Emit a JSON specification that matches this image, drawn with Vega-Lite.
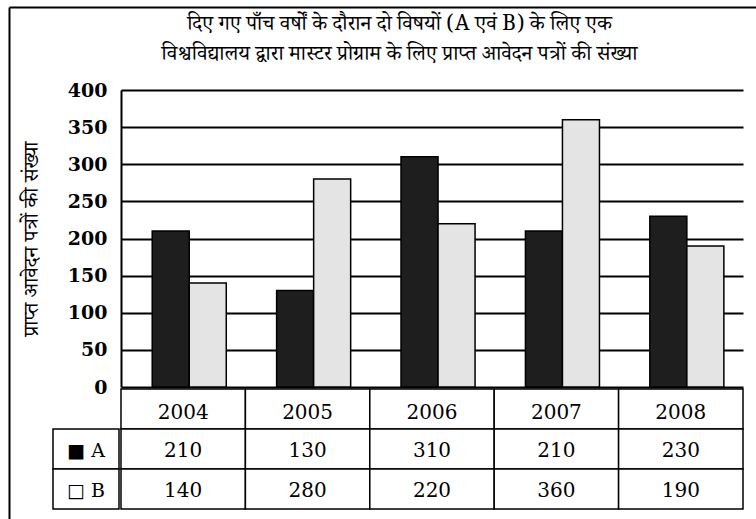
{
  "$schema": "https://vega.github.io/schema/vega-lite/v6.json",
  "width": 747,
  "height": 512,
  "autosize": {"type": "none"},
  "padding": {"left": 9, "top": 7, "right": 0, "bottom": 0},
  "background": "white",
  "config": {"view": {"stroke": null}},
  "title": {
    "text": ["दिए गए पाँच वर्षों के दौरान दो विषयों (A एवं B) के लिए एक", "विश्वविद्यालय द्वारा मास्टर प्रोग्राम के लिए प्राप्त आवेदन पत्रों की संख्या"],
    "anchor": "middle",
    "frame": "group",
    "offset": -57,
    "dx": 17,
    "fontSize": 21,
    "fontWeight": "normal",
    "font": "Noto Serif Devanagari, Noto Sans Devanagari, sans-serif",
    "lineHeight": 30,
    "color": "black"
  },
  "datasets": {
    "apps": [
      {"year": "2004", "subject": "A", "applications": 210},
      {"year": "2004", "subject": "B", "applications": 140},
      {"year": "2005", "subject": "A", "applications": 130},
      {"year": "2005", "subject": "B", "applications": 280},
      {"year": "2006", "subject": "A", "applications": 310},
      {"year": "2006", "subject": "B", "applications": 220},
      {"year": "2007", "subject": "A", "applications": 210},
      {"year": "2007", "subject": "B", "applications": 360},
      {"year": "2008", "subject": "A", "applications": 230},
      {"year": "2008", "subject": "B", "applications": 190}
    ]
  },
  "layer": [
    {
      "data": {"name": "apps"},
      "mark": {"type": "bar", "stroke": "black", "strokeWidth": 1.5},
      "encoding": {
        "x": {"field": "year", "type": "nominal", "scale": {"type": "band", "domain": ["2004", "2005", "2006", "2007", "2008"], "range": [112, 734], "paddingInner": 0, "paddingOuter": 0}, "axis": null},
        "xOffset": {"field": "subject", "type": "nominal", "scale": {"paddingInner": 0, "paddingOuter": 0.68, "align": 0.62}},
        "y": {
          "field": "applications", "type": "quantitative",
          "scale": {"domain": [0, 400], "range": [380, 83], "nice": false, "zero": false},
          "axis": {
            "orient": "left", "offset": -112, "values": [0, 50, 100, 150, 200, 250, 300, 350, 400],
            "domain": true, "domainColor": "black", "domainWidth": 2,
            "grid": true, "gridColor": "black", "gridWidth": 2, "gridOpacity": 1,
            "ticks": false,
            "labelPadding": 14, "labelFont": "DejaVu Serif", "labelFontWeight": "bold", "labelFontSize": 19, "labelColor": "black",
            "labelOverlap": false, "labelFlush": false,
            "title": "प्राप्त आवेदन पत्रों की संख्या", "titleFont": "Noto Serif Devanagari, Noto Sans Devanagari, sans-serif",
            "titleFontSize": 21, "titleFontWeight": "normal", "titleColor": "black", "titlePadding": 26
          }
        },
        "y2": {"datum": 0},
        "color": {"field": "subject", "type": "nominal", "scale": {"domain": ["A", "B"], "range": ["#1e1e1e", "#e4e4e4"]}, "legend": null}
      }
    },
    {
      "data": {"name": "apps"},
      "layer": [
        {
          "transform": [{"filter": "datum.subject === 'A'"}],
          "mark": {"type": "rect", "fill": "white", "stroke": "black", "strokeWidth": 1.5},
          "encoding": {
            "x": {"field": "year", "type": "nominal", "scale": {"type": "band", "domain": ["2004", "2005", "2006", "2007", "2008"], "range": [112, 734], "paddingInner": 0, "paddingOuter": 0}, "axis": null},
            "y": {"datum": "header", "type": "nominal", "scale": {"type": "band", "domain": ["header", "A", "B"], "range": [382, 502], "paddingInner": 0, "paddingOuter": 0}, "axis": null}
          }
        },
        {
          "transform": [{"filter": "datum.subject === 'A'"}],
          "mark": {"type": "text", "font": "DejaVu Serif", "fontSize": 20, "baseline": "middle", "dy": 4, "color": "black"},
          "encoding": {
            "x": {"field": "year", "type": "nominal", "axis": null},
            "y": {"datum": "header", "type": "nominal", "axis": null},
            "text": {"field": "year"}
          }
        },
        {
          "mark": {"type": "rect", "fill": "white", "stroke": "black", "strokeWidth": 1.5},
          "encoding": {
            "x": {"field": "year", "type": "nominal", "axis": null},
            "y": {"field": "subject", "type": "nominal", "axis": null}
          }
        },
        {
          "mark": {"type": "text", "font": "DejaVu Serif", "fontSize": 20, "baseline": "middle", "dy": 2, "color": "black"},
          "encoding": {
            "x": {"field": "year", "type": "nominal", "axis": null},
            "y": {"field": "subject", "type": "nominal", "axis": null},
            "text": {"field": "applications"}
          }
        }
      ]
    },
    {
      "data": {"name": "apps"},
      "transform": [{"filter": "datum.year === '2004'"}],
      "layer": [
        {
          "mark": {"type": "rect", "fill": "white", "stroke": "black", "strokeWidth": 1.5},
          "encoding": {
            "x": {"datum": "key", "type": "nominal", "scale": {"type": "band", "domain": ["key"], "range": [44, 110], "paddingInner": 0, "paddingOuter": 0}, "axis": null},
            "y": {"field": "subject", "type": "nominal", "scale": {"type": "band", "domain": ["header", "A", "B"], "range": [382, 502], "paddingInner": 0, "paddingOuter": 0}, "axis": null}
          }
        },
        {
          "mark": {"type": "text", "font": "DejaVu Serif", "fontSize": 19, "baseline": "middle", "dy": 2, "color": "black"},
          "encoding": {
            "x": {"datum": "key", "type": "nominal", "axis": null},
            "y": {"field": "subject", "type": "nominal", "axis": null},
            "text": {"condition": {"test": "datum.subject === 'A'", "value": "■ A"}, "value": "□ B"}
          }
        }
      ]
    },
    {
      "data": {"values": [{}]},
      "mark": {"type": "point", "opacity": 0},
      "encoding": {
        "x": {"datum": 0, "type": "quantitative", "scale": {"domain": [0, 1], "nice": false},
              "axis": {"orient": "top", "domain": true, "domainColor": "black", "domainWidth": 2, "ticks": false, "labels": false, "grid": false, "title": null}},
        "y": {"datum": 0, "type": "quantitative", "scale": {"domain": [0, 1], "nice": false},
              "axis": {"orient": "left", "domain": true, "domainColor": "black", "domainWidth": 2, "ticks": false, "labels": false, "grid": false, "title": null}}
      }
    }
  ],
  "resolve": {"scale": {"x": "independent", "y": "independent"}}
}
